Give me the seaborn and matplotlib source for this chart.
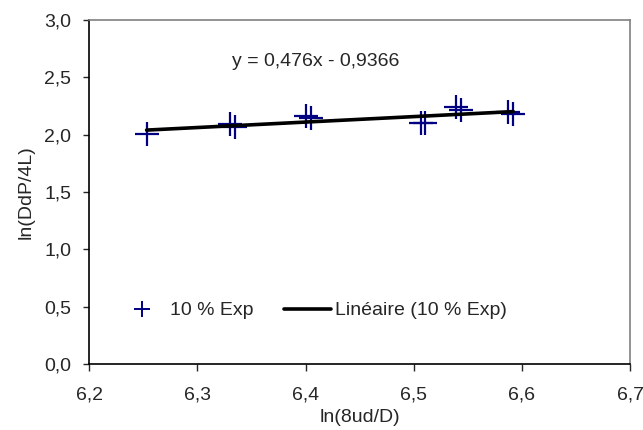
import seaborn as sns
import matplotlib.pyplot as plt
from matplotlib.lines import Line2D
import pandas as pd
import numpy as np

# style
sns.set_style('white')
plt.rcParams['font.family'] = ['Liberation Sans', 'DejaVu Sans']

# data
ln_8ud_D = [6.253, 6.330, 6.335, 6.400, 6.405, 6.507, 6.510, 6.539, 6.544, 6.587, 6.592]
ln_DdP_4L = [2.003, 2.093, 2.064, 2.165, 2.143, 2.099, 2.099, 2.244, 2.212, 2.195, 2.183]
slope = 0.476
intercept = -0.9366

x_ticks = [6.2, 6.3, 6.4, 6.5, 6.6, 6.7]
y_ticks = [0.0, 0.5, 1.0, 1.5, 2.0, 2.5, 3.0]

df = pd.DataFrame({'x': ln_8ud_D, 'y': ln_DdP_4L})
x_fit = np.array([min(ln_8ud_D), max(ln_8ud_D)])
fit = pd.DataFrame({'x': x_fit, 'y': slope * x_fit + intercept})

navy = '#000080'
fs = 14

fig = plt.figure(figsize=(6.43, 4.3), dpi=100)
ax = fig.add_axes([0.1389, 0.1535, 0.8409, 0.8])

sns.scatterplot(data=df, x='x', y='y', marker='+', s=300, linewidth=1.6,
                color=navy, ax=ax, legend=False, zorder=2)
sns.lineplot(data=fit, x='x', y='y', color='black', linewidth=2.6, ax=ax,
             legend=False, zorder=3)

ax.set_xlim(6.2, 6.7)
ax.set_ylim(0, 3.0)
ax.set_xticks(x_ticks)
ax.set_yticks(y_ticks)
ax.set_xticklabels([f'{v:.1f}'.replace('.', ',') for v in x_ticks], fontsize=fs)
ax.set_yticklabels([f'{v:.1f}'.replace('.', ',') for v in y_ticks], fontsize=fs)
ax.tick_params(axis='x', direction='out', length=5, width=1, pad=11, bottom=True)
ax.tick_params(axis='y', direction='out', length=4, width=1, pad=9, left=True)

ax.set_xlabel('ln(8ud/D)', fontsize=fs, labelpad=4)
ax.set_ylabel('ln(DdP/4L)', fontsize=fs, labelpad=7)

for s in ['left', 'bottom']:
    ax.spines[s].set_color('black')
    ax.spines[s].set_linewidth(1.2)
for s in ['top', 'right']:
    ax.spines[s].set_color('#808080')
    ax.spines[s].set_linewidth(1.2)

ax.text(0.263, 0.879, 'y = 0,476x - 0,9366', transform=ax.transAxes,
        fontsize=fs, va='center', ha='left')

handles = [
    Line2D([], [], marker='+', linestyle='none', color=navy, markersize=11, markeredgewidth=1.4),
    Line2D([], [], color='black', linewidth=2.6),
]
ax.legend(handles, ['10 % Exp', 'Linéaire (10 % Exp)'], ncol=2, frameon=False,
          loc='center left', bbox_to_anchor=(0.055, 0.155), fontsize=fs,
          handlelength=2.4, handletextpad=0.2, columnspacing=1.6,
          borderpad=0, borderaxespad=0)

fig.savefig('out.png', dpi=100)
